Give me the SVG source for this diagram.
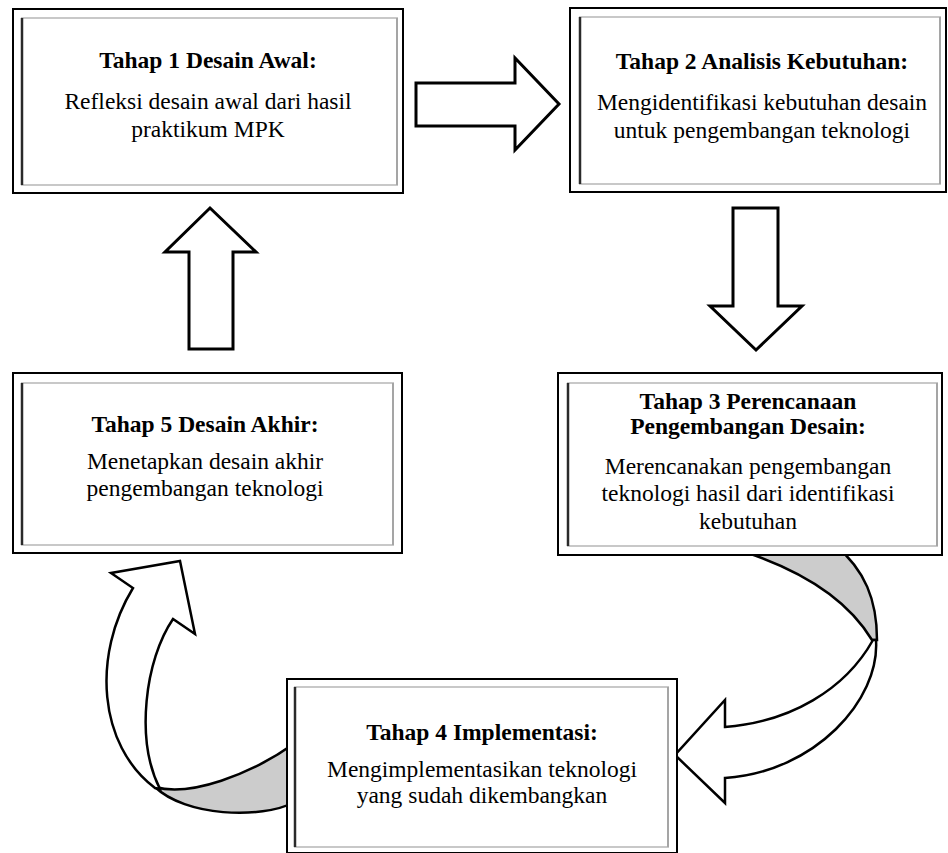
<svg xmlns="http://www.w3.org/2000/svg" width="948" height="853" viewBox="0 0 948 853">
<style>
.outer{fill:#fff;stroke:#000;stroke-width:2}
.inner{fill:none;stroke:#c8c8c8;stroke-width:2}
.lt{fill:none;stroke:#2a2a2a;stroke-width:2.5}
.rt{fill:none;stroke:#9a9a9a;stroke-width:1.5}
.blk{fill:#fff;stroke:#000;stroke-width:3;stroke-linejoin:miter}
.rib{fill:#fff;stroke:#000;stroke-width:2.5;stroke-linejoin:miter}
.gry{fill:#cccccc;stroke:#000;stroke-width:2.5}
.t{font-family:"Liberation Serif","Times New Roman",serif;font-size:23.5px;font-weight:bold;text-anchor:middle;fill:#000}
.b{font-family:"Liberation Serif","Times New Roman",serif;font-size:23.5px;text-anchor:middle;fill:#000}
</style>
<g id="connectors">
  <polygon class="blk" points="416,83 515,83 515,58 559,104 515,150 515,126 416,126"/>
  <polygon class="blk" points="733,208 778,208 778,306 802,306 756,350 710,306 733,306"/>
  <polygon class="blk" points="210,208 256,252 233,252 233,349 189,349 189,252 165,252"/>
  <path class="gry" d="M 872,640 C 848,600 805,572 745,552 L 835,545 C 865,570 877,600 877,640 Z"/>
  <path class="rib" d="M 876,640 C 880,700 815,772 725,778 L 725,803 L 675,755 L 725,700 L 725,727 C 790,722 845,690 873,640 Z"/>
  <path class="gry" d="M 155,787 C 190,797 250,775 295,743 L 295,802 C 260,820 185,816 155,787 Z"/>
  <path class="rib" d="M 155,788 C 98,745 92,655 133,588 L 111,573 L 180,561 L 195,634 L 173,619 C 145,660 135,740 160,789 Z"/>
</g>
<g id="node1">
  <rect class="outer" x="13" y="9" width="390" height="184"/>
  <rect class="inner" x="22" y="18" width="375" height="167"/>
  <line class="rt" x1="397" y1="18" x2="397" y2="185"/>
  <line class="lt" x1="22" y1="18" x2="22" y2="185"/>
  <text class="t" x="208" y="68">Tahap 1 Desain Awal:</text>
  <text class="b" x="208" y="109">Refleksi desain awal dari hasil</text>
  <text class="b" x="208" y="137">praktikum MPK</text>
</g>
<g id="node2">
  <rect class="outer" x="570" y="8" width="376" height="184"/>
  <rect class="inner" x="580" y="17" width="360" height="167"/>
  <line class="rt" x1="940" y1="17" x2="940" y2="184"/>
  <line class="lt" x1="580" y1="17" x2="580" y2="184"/>
  <text class="t" x="762" y="69">Tahap 2 Analisis Kebutuhan:</text>
  <text class="b" x="762" y="110">Mengidentifikasi kebutuhan desain</text>
  <text class="b" x="762" y="138">untuk pengembangan teknologi</text>
</g>
<g id="node3">
  <rect class="outer" x="558" y="373" width="384" height="182"/>
  <rect class="inner" x="568" y="383" width="369" height="163"/>
  <line class="rt" x1="937" y1="383" x2="937" y2="546"/>
  <line class="lt" x1="568" y1="383" x2="568" y2="546"/>
  <text class="t" x="748" y="409">Tahap 3 Perencanaan</text>
  <text class="t" x="748" y="434">Pengembangan Desain:</text>
  <text class="b" x="748" y="474">Merencanakan pengembangan</text>
  <text class="b" x="748" y="501">teknologi hasil dari identifikasi</text>
  <text class="b" x="748" y="529">kebutuhan</text>
</g>
<g id="node4">
  <rect class="outer" x="287" y="679" width="390" height="174"/>
  <rect class="inner" x="295" y="687" width="373" height="160"/>
  <line class="rt" x1="668" y1="687" x2="668" y2="847"/>
  <line class="lt" x1="295" y1="687" x2="295" y2="847"/>
  <text class="t" x="482" y="740">Tahap 4 Implementasi:</text>
  <text class="b" x="482" y="777">Mengimplementasikan teknologi</text>
  <text class="b" x="482" y="803">yang sudah dikembangkan</text>
</g>
<g id="node5">
  <rect class="outer" x="13" y="373" width="389" height="180"/>
  <rect class="inner" x="22" y="383" width="371" height="162"/>
  <line class="rt" x1="393" y1="383" x2="393" y2="545"/>
  <line class="lt" x1="22" y1="383" x2="22" y2="545"/>
  <text class="t" x="205" y="432">Tahap 5 Desain Akhir:</text>
  <text class="b" x="205" y="469">Menetapkan desain akhir</text>
  <text class="b" x="205" y="496">pengembangan teknologi</text>
</g>
</svg>
